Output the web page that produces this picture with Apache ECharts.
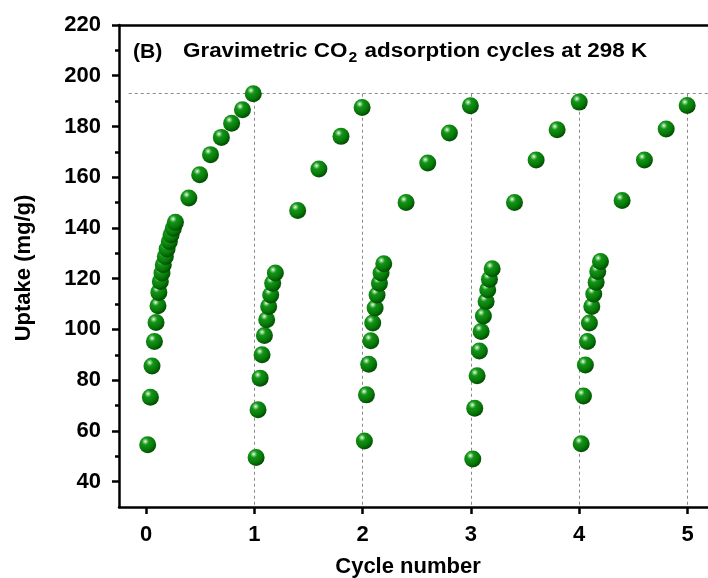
<!DOCTYPE html>
<html>
<head>
<meta charset="utf-8">
<script src="https://cdn.jsdelivr.net/npm/echarts@6/dist/echarts.min.js"></script>
<style>
  html, body { margin: 0; padding: 0; background: #fff; }
  #chart { width: 708px; height: 578px; }
</style>
</head>
<body>
<div id="chart"></div>
<script>
// Gravimetric CO2 uptake (mg/g) versus cycle number, five adsorption cycles at 298 K
const cycle1Time   = [0.015, 0.040, 0.055, 0.077, 0.092, 0.110, 0.118, 0.132, 0.147, 0.159, 0.178, 0.194, 0.215, 0.231, 0.252, 0.271, 0.395, 0.495, 0.595, 0.695, 0.790, 0.890, 0.990];
const cycle1Uptake = [54.5, 73.3, 85.6, 95.2, 102.7, 109.3, 114.6, 118.9, 122.2, 125.5, 128.7, 131.7, 134.7, 137.3, 139.9, 142.2, 151.8, 161.0, 168.9, 175.7, 181.3, 186.6, 192.9];

const cycle2Time   = [1.016, 1.034, 1.053, 1.071, 1.093, 1.114, 1.132, 1.151, 1.169, 1.194, 1.400, 1.596, 1.800, 1.995];
const cycle2Uptake = [49.5, 68.3, 80.8, 90.0, 97.6, 103.8, 109.0, 113.6, 118.2, 122.2, 146.9, 163.2, 176.1, 187.5];

const cycle3Time   = [2.016, 2.035, 2.056, 2.075, 2.093, 2.115, 2.133, 2.155, 2.170, 2.195, 2.401, 2.601, 2.801, 2.995];
const cycle3Uptake = [56.0, 74.2, 86.3, 95.5, 102.5, 108.4, 113.6, 118.2, 122.2, 125.9, 150.0, 165.6, 177.4, 188.2];

const cycle4Time   = [3.017, 3.035, 3.057, 3.078, 3.094, 3.115, 3.140, 3.155, 3.171, 3.196, 3.402, 3.602, 3.796, 4.000];
const cycle4Uptake = [48.9, 68.9, 81.7, 91.5, 99.2, 105.3, 111.0, 115.6, 119.8, 123.9, 150.0, 166.8, 178.7, 189.6];

const cycle5Time   = [4.018, 4.039, 4.057, 4.076, 4.094, 4.116, 4.134, 4.156, 4.171, 4.196, 4.396, 4.602, 4.803, 4.997];
const cycle5Uptake = [54.9, 73.8, 86.0, 95.2, 102.5, 109.0, 114.0, 118.6, 122.8, 126.8, 150.8, 166.8, 179.0, 188.3];

const xTickValues = [0, 1, 2, 3, 4, 5];
const yTickValues = [40, 60, 80, 100, 120, 140, 160, 180, 200, 220];
const yMinorTickValues = [50, 70, 90, 110, 130, 150, 170, 190, 210];

const titleTag = '(B)';
const titleParts = ['Gravimetric CO', '2', ' adsorption cycles at 298 K'];
const xName = 'Cycle number';
const yName = 'Uptake (mg/g)';

const FONT = '"Liberation Sans", Arial, Helvetica, sans-serif';

const cycles = [
  [cycle1Time, cycle1Uptake],
  [cycle2Time, cycle2Uptake],
  [cycle3Time, cycle3Uptake],
  [cycle4Time, cycle4Uptake],
  [cycle5Time, cycle5Uptake]
];

// reference level: the peak uptake reached in the first cycle
const peak = Math.max(...cycle1Uptake);
const X_MIN = -0.25, X_MAX = 5.3, Y_MIN = 30, Y_MAX = 220;

const sphere = new echarts.graphic.RadialGradient(0.36, 0.3, 0.75, [
  { offset: 0.0, color: '#f4fff4' },
  { offset: 0.12, color: '#7fcf7f' },
  { offset: 0.28, color: '#149418' },
  { offset: 0.65, color: '#077a09' },
  { offset: 1.0, color: '#004400' }
]);

const guideLines = [[{ coord: [-0.16, peak] }, { coord: [X_MAX, peak] }]];
xTickValues.slice(1).forEach(k => {
  guideLines.push([{ coord: [k, peak] }, { coord: [k, Y_MIN] }]);
});

const series = cycles.map(([t, u], i) => ({
  type: 'scatter',
  xAxisIndex: 0,
  yAxisIndex: 0,
  data: t.map((v, j) => [v, u[j]]),
  symbol: 'circle',
  symbolSize: 17,
  itemStyle: { color: sphere, opacity: 1 },
  z: 3,
  silent: true,
  markLine: i === 0 ? {
    silent: true,
    symbol: ['none', 'none'],
    label: { show: false },
    lineStyle: { color: '#8a8a8a', width: 1, type: [3, 3] },
    data: guideLines,
    z: 1
  } : undefined
}));

const frameLine = { show: true, onZero: false, lineStyle: { color: '#000', width: 2.5 } };

const chart = echarts.init(document.getElementById('chart'), null, { renderer: 'canvas' });
chart.setOption({
  animation: false,
  backgroundColor: '#ffffff',
  grid: {
    left: 119, top: 25, width: 601, height: 482,
    containLabel: false, outerBoundsMode: 'none', show: false
  },
  xAxis: [
    {
      type: 'value', min: X_MIN, max: X_MAX, position: 'bottom',
      axisLine: frameLine,
      axisTick: { show: true, inside: false, length: 7, lineStyle: { color: '#000', width: 2.5 }, customValues: xTickValues },
      axisLabel: { show: true, customValues: xTickValues, margin: 17, color: '#000', fontFamily: FONT, fontWeight: 'bold', fontSize: 22 },
      splitLine: { show: false }
    },
    {
      // top frame line only
      type: 'value', min: X_MIN, max: X_MAX, position: 'top',
      axisLine: frameLine,
      axisTick: { show: false },
      axisLabel: { show: false },
      splitLine: { show: false }
    }
  ],
  yAxis: [
    {
      type: 'value', min: Y_MIN, max: Y_MAX, position: 'left',
      axisLine: frameLine,
      axisTick: { show: true, inside: false, length: 7, lineStyle: { color: '#000', width: 2.5 }, customValues: yTickValues },
      axisLabel: { show: true, customValues: yTickValues, margin: 18, color: '#000', fontFamily: FONT, fontWeight: 'bold', fontSize: 22 },
      splitLine: { show: false }
    },
    {
      type: 'value', min: Y_MIN, max: Y_MAX, position: 'left', alignTicks: false,
      axisLine: { show: false, onZero: false },
      axisTick: { show: true, inside: false, length: 4, lineStyle: { color: '#000', width: 2.5 }, customValues: yMinorTickValues },
      axisLabel: { show: false },
      splitLine: { show: false }
    }
  ],
  graphic: [
    {
      type: 'text', x: 133, y: 52, scaleX: 1.06,
      style: { text: titleTag, fill: '#000', font: 'bold 20px ' + FONT, verticalAlign: 'middle' }
    },
    {
      type: 'text', x: 183, y: 41, scaleX: 1.12,
      style: {
        text: '{a|' + titleParts[0] + '}{s|' + titleParts[1] + '}{a|' + titleParts[2] + '}',
        rich: {
          a: { fontFamily: FONT, fontWeight: 'bold', fontSize: 20, fill: '#000', color: '#000', verticalAlign: 'top', lineHeight: 22 },
          s: { fontFamily: FONT, fontWeight: 'bold', fontSize: 14, fill: '#000', color: '#000', verticalAlign: 'top', lineHeight: 22, padding: [10, 1, 0, 1] }
        }
      }
    },
    {
      type: 'text', x: 408, y: 567,
      style: { text: xName, fill: '#000', font: 'bold 22px ' + FONT, align: 'center', verticalAlign: 'middle' }
    },
    {
      type: 'text', x: 24, y: 268, rotation: Math.PI / 2,
      style: { text: yName, fill: '#000', font: 'bold 22px ' + FONT, align: 'center', verticalAlign: 'middle' }
    }
  ],
  series: series
});
</script>
</body>
</html>
